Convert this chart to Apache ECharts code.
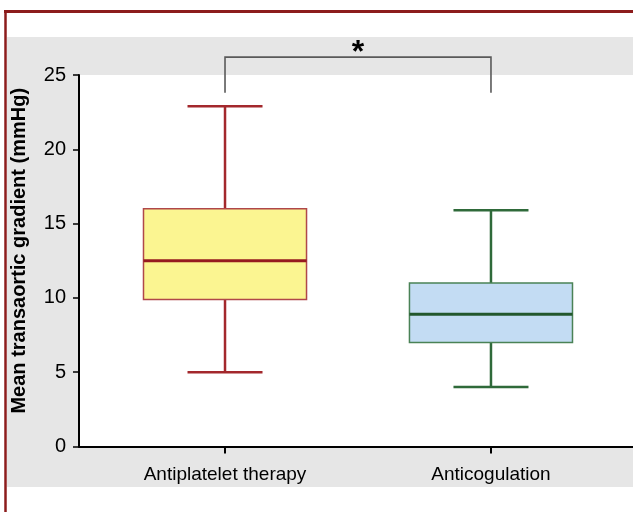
<!DOCTYPE html>
<html>
<head>
<meta charset="utf-8">
<script src="https://cdn.jsdelivr.net/npm/echarts@6/dist/echarts.min.js"></script>
<style>html,body{margin:0;padding:0;background:#fff;}#c{width:633px;height:512px;}</style>
</head>
<body>
<div id="c"></div>
<script>
const categories = ['Antiplatelet therapy', 'Anticogulation'];
const minVals = [5, 4];
const q1Vals = [9.9, 7];
const medianVals = [12.5, 8.9];
const q3Vals = [16, 11];
const maxVals = [22.9, 15.9];
const yTicks = [0, 5, 10, 15, 20, 25];
const bracket = [0, 1, 23.8, 26.2];
const bracketLabel = '*';

const FONT = "'Liberation Sans', Arial, sans-serif";
const fills = ['#fbf591', '#c3dcf3'];
const strokes = ['#a3282c', '#2f6a3a'];
const boxBorders = ['#b0474a', '#4a8256'];
const medians = ['#961a1f', '#22572c'];

const boxData = categories.map((c, i) => [i, minVals[i], q1Vals[i], medianVals[i], q3Vals[i], maxVals[i]]);

const chart = echarts.init(document.getElementById('c'), null, {renderer: 'canvas'});
chart.setOption({
  animation: false,
  backgroundColor: '#fff',
  graphic: [
    {type: 'rect', z: -100, shape: {x: 7, y: 37, width: 626, height: 450}, style: {fill: '#e6e6e6'}},
    {type: 'line', z: 100, shape: {x1: 5.5, y1: 10, x2: 5.5, y2: 512}, style: {stroke: '#8c1c1c', lineWidth: 2.5}},
    {type: 'line', z: 100, shape: {x1: 4, y1: 11.5, x2: 633, y2: 11.5}, style: {stroke: '#8c1c1c', lineWidth: 3}}
  ],
  grid: {left: 79, right: 0, top: 75, bottom: 65.5, show: true, backgroundColor: '#fff', borderWidth: 0},
  xAxis: {
    type: 'value', min: -0.549, max: 1.534,
    splitLine: {show: false},
    axisLine: {show: true, onZero: false, lineStyle: {color: '#000', width: 2}},
    axisTick: {show: true, customValues: [0, 1], length: 7, lineStyle: {color: '#000', width: 2}},
    axisLabel: {customValues: [0, 1], formatter: v => categories[Math.round(v)], color: '#000', fontFamily: FONT, fontSize: 19, margin: 19}
  },
  yAxis: {
    type: 'value', min: 0, max: 25, interval: 5,
    splitLine: {show: false},
    axisLine: {show: true, onZero: false, lineStyle: {color: '#000', width: 2}},
    axisTick: {show: true, length: 6, lineStyle: {color: '#000', width: 1.5}},
    axisLabel: {color: '#000', fontFamily: FONT, fontSize: 20, margin: 13},
    name: 'Mean transaortic gradient (mmHg)',
    nameLocation: 'middle', nameGap: 50,
    nameTextStyle: {color: '#000', fontFamily: FONT, fontSize: 20, fontWeight: 'bold', padding: [0, 0, 0, 20]}
  },
  series: [
    {
      type: 'custom',
      data: boxData,
      clip: false,
      renderItem: function (params, api) {
        const i = api.value(0);
        const band = api.size([1, 0])[0];
        const bw = band * 0.613, cw = band * 0.282;
        const pMin = api.coord([i, api.value(1)]);
        const pQ1 = api.coord([i, api.value(2)]);
        const pMed = api.coord([i, api.value(3)]);
        const pQ3 = api.coord([i, api.value(4)]);
        const pMax = api.coord([i, api.value(5)]);
        const x = pMin[0];
        const ws = {stroke: strokes[i], lineWidth: 2.5};
        return {
          type: 'group',
          children: [
            {type: 'line', shape: {x1: x, y1: pMax[1], x2: x, y2: pQ3[1]}, style: ws},
            {type: 'line', shape: {x1: x, y1: pQ1[1], x2: x, y2: pMin[1]}, style: ws},
            {type: 'line', shape: {x1: x - cw / 2, y1: pMax[1], x2: x + cw / 2, y2: pMax[1]}, style: ws},
            {type: 'line', shape: {x1: x - cw / 2, y1: pMin[1], x2: x + cw / 2, y2: pMin[1]}, style: ws},
            {type: 'rect', shape: {x: x - bw / 2, y: pQ3[1], width: bw, height: pQ1[1] - pQ3[1]}, style: {fill: fills[i], stroke: boxBorders[i], lineWidth: 1.5}},
            {type: 'line', shape: {x1: x - bw / 2, y1: pMed[1], x2: x + bw / 2, y2: pMed[1]}, style: {stroke: medians[i], lineWidth: 3}}
          ]
        };
      }
    },
    {
      type: 'custom',
      data: [bracket],
      clip: false,
      renderItem: function (params, api) {
        const a = api.coord([api.value(0), api.value(2)]);
        const b = api.coord([api.value(0), api.value(3)]);
        const c = api.coord([api.value(1), api.value(3)]);
        const d = api.coord([api.value(1), api.value(2)]);
        return {
          type: 'group',
          children: [
            {type: 'polyline', shape: {points: [a, b, c, d]}, style: {stroke: '#5a5a5a', lineWidth: 1.6, fill: null}},
            {type: 'text', x: (b[0] + c[0]) / 2, y: b[1] + 12, style: {text: bracketLabel, fill: '#000', font: "bold 32px 'Liberation Sans', sans-serif", align: 'center', verticalAlign: 'bottom'}}
          ]
        };
      }
    }
  ]
});
</script>
</body>
</html>
